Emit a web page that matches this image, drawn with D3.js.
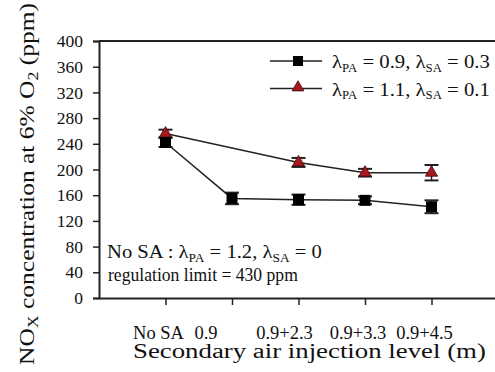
<!DOCTYPE html>
<html>
<head>
<meta charset="utf-8">
<script src="https://cdn.jsdelivr.net/npm/d3@7"></script>
<style>
  body { margin: 0; background: #fff; }
</style>
</head>
<body>
<script>
var width = 495,
	height = 372;

// categories along the x axis (secondary air injection level)
var levels = ["No SA", "0.9", "0.9+2.3", "0.9+3.3", "0.9+4.5"];

// lambda_PA = 0.9, lambda_SA = 0.3 (black squares)
var sqValues = [242, 155, 153, 152, 142],
	sqErrors = [7, 9, 8, 6, 10];

// lambda_PA = 1.1, lambda_SA = 0.1 (red triangles), no point at 0.9
var triLevels = ["No SA", "0.9+2.3", "0.9+3.3", "0.9+4.5"],
	triValues = [256, 211, 195, 195],
	triErrors = [6, 7, 6, 12];

var yTicks = [0, 40, 80, 120, 160, 200, 240, 280, 320, 360, 400];

var padL = 99, padT = 41, padB = 298, padR = 498;
var ink = "#222", red = "#a8171d", txt = "#111";
var serif = "'Liberation Serif', 'DejaVu Serif', serif";

var svg = d3.select("body")
		.append("svg")
		.attr("width", width)
		.attr("height", height)
		.attr("font-family", serif);

// the source figure's type is wider than Times, so widen text groups to a given length
var stretch = function(g, w) {
	var b = g.node().getBBox();
	g.attr("transform", g.attr("transform") + " scale(" + (w / b.width) + ",1)");
}

var x = d3.scalePoint()
		.domain(["", ...levels, " "])
		.range([padL, padR]);

var y = d3.scaleLinear()
		.domain([0, 400])
		.range([padB, padT]);

// axes
var yAxis = svg.append("g")
		.attr("transform", "translate(" + padL + ",0)")
		.call(d3.axisLeft(y).tickValues(yTicks).tickSize(6).tickPadding(10).tickFormat(d3.format("d")));
yAxis.attr("font-family", serif).attr("font-size", 17.5);
yAxis.select(".domain").attr("stroke", ink).attr("stroke-width", 2);
yAxis.selectAll(".tick line").attr("stroke", ink).attr("stroke-width", 1.5);
yAxis.selectAll(".tick text").attr("fill", txt);

var xAxis = svg.append("g")
		.attr("transform", "translate(0," + padB + ")")
		.call(d3.axisBottom(x).tickValues(levels).tickSize(7).tickSizeOuter(0).tickFormat(""));
xAxis.select(".domain").attr("stroke", ink).attr("stroke-width", 2);
xAxis.selectAll(".tick line").attr("stroke", ink).attr("stroke-width", 1.5);

// x labels sit a little left of their ticks
svg.selectAll(".xlab")
	.data(levels)
	.enter().append("text")
	.attr("class", "xlab")
	.attr("x", function(d, i) { return x(d) - (i == 1 ? 26 : i == 2 ? 14 : 7); })
	.attr("y", 339)
	.attr("text-anchor", "middle")
	.attr("font-size", 18.5)
	.attr("fill", txt)
	.text(function(d) { return d; });

// top frame line
svg.append("line")
	.attr("x1", padL).attr("x2", width)
	.attr("y1", y(400)).attr("y2", y(400))
	.attr("stroke", ink).attr("stroke-width", 2);

// axis titles
var xt = svg.append("g").attr("transform", "translate(133,358)");
xt.append("text")
	.attr("font-size", 20.5)
	.attr("fill", txt)
	.text("Secondary air injection level (m)");
stretch(xt, 353);

var ytg = svg.append("g").attr("transform", "translate(34,184) rotate(-90)");
var yt = ytg.append("text")
	.attr("text-anchor", "middle")
	.attr("font-size", 21.5)
	.attr("fill", txt);
yt.append("tspan").text("NO");
yt.append("tspan").attr("baseline-shift", "-25%").attr("font-size", 15).text("X");
yt.append("tspan").text(" concentration at 6% O");
yt.append("tspan").attr("baseline-shift", "-25%").attr("font-size", 15).text("2");
yt.append("tspan").text(" (ppm)");
stretch(ytg, 362);

var line = d3.line()
		.x(function(d) { return x(d[0]); })
		.y(function(d) { return y(d[1]); });

var drawErrors = function(cats, vals, errs) {
	var g = svg.append("g");
	cats.forEach(function(c, i) {
		var cx = x(c), lo = y(vals[i] - errs[i]), hi = y(vals[i] + errs[i]);
		g.append("line").attr("x1", cx).attr("x2", cx).attr("y1", lo).attr("y2", hi)
			.attr("stroke", ink).attr("stroke-width", 1.5);
		[lo, hi].forEach(function(yy) {
			g.append("line").attr("x1", cx - 7).attr("x2", cx + 7).attr("y1", yy).attr("y2", yy)
				.attr("stroke", ink).attr("stroke-width", 2);
		});
	});
}

// triangle series
var triPts = triLevels.map(function(c, i) { return [c, triValues[i]]; });
svg.append("path").datum(triPts).attr("d", line)
	.attr("fill", "none").attr("stroke", ink).attr("stroke-width", 1.5);
drawErrors(triLevels, triValues, triErrors);
svg.selectAll(".tri").data(triPts).enter().append("path")
	.attr("class", "tri")
	.attr("transform", function(d) { return "translate(" + x(d[0]) + "," + y(d[1]) + ")"; })
	.attr("d", d3.symbol().type(d3.symbolTriangle).size(64))
	.attr("fill", red).attr("stroke", "#3a0a0a").attr("stroke-width", 0.8);

// square series
var sqPts = levels.map(function(c, i) { return [c, sqValues[i]]; });
svg.append("path").datum(sqPts).attr("d", line)
	.attr("fill", "none").attr("stroke", ink).attr("stroke-width", 1.5);
drawErrors(levels, sqValues, sqErrors);
svg.selectAll(".sq").data(sqPts).enter().append("rect")
	.attr("class", "sq")
	.attr("x", function(d) { return x(d[0]) - 5.5; })
	.attr("y", function(d) { return y(d[1]) - 5.5; })
	.attr("width", 11).attr("height", 11)
	.attr("fill", "#000");

// subscripted lambda text
var lambdaText = function(t, parts) {
	parts.forEach(function(p) {
		var s = t.append("tspan").text(p[0]);
		if (p[1]) s.attr("baseline-shift", "-30%").attr("font-size", 12);
	});
}

// legend
var legend = [
	{ pa: "0.9", sa: "0.3", type: "sq" },
	{ pa: "1.1", sa: "0.1", type: "tri" }
];
legend.forEach(function(d, i) {
	var ly = 61 + i * 27.5;
	svg.append("line").attr("x1", 270).attr("x2", 322).attr("y1", ly).attr("y2", ly)
		.attr("stroke", ink).attr("stroke-width", 1.5);
	if (d.type == "sq")
		svg.append("rect").attr("x", 293).attr("y", ly - 5).attr("width", 10).attr("height", 10).attr("fill", "#000");
	else
		svg.append("path").attr("transform", "translate(298," + (ly - 1) + ")")
			.attr("d", d3.symbol().type(d3.symbolTriangle).size(60))
			.attr("fill", red).attr("stroke", "#3a0a0a").attr("stroke-width", 0.8);
	var g = svg.append("g").attr("transform", "translate(332," + (ly + 7) + ")");
	var t = g.append("text").attr("font-size", 19.5).attr("fill", txt);
	lambdaText(t, [["λ"], ["PA", 1], [" = " + d.pa + ", λ"], ["SA", 1], [" = " + d.sa]]);
	stretch(g, 158);
});

// note inside the plot
var n1 = svg.append("g").attr("transform", "translate(107,258)");
lambdaText(n1.append("text").attr("font-size", 18.5).attr("fill", txt),
	[["No SA : λ"], ["PA", 1], [" = 1.2,  λ"], ["SA", 1], [" = 0"]]);
stretch(n1, 215);
var n2 = svg.append("g").attr("transform", "translate(108,281)");
n2.append("text").attr("font-size", 18).attr("fill", txt)
	.text("regulation limit = 430 ppm");
stretch(n2, 190);
</script>
</body>
</html>
